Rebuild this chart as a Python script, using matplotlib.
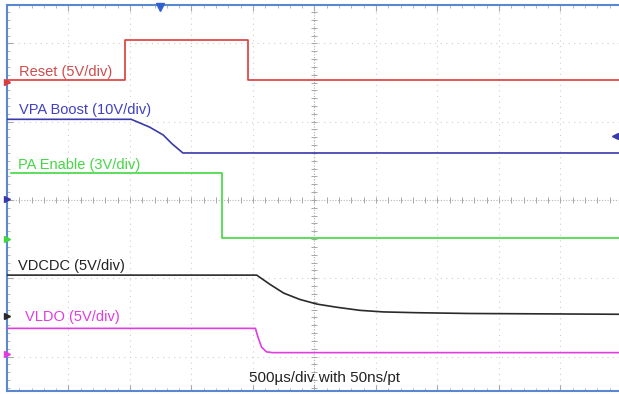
import matplotlib
matplotlib.use("Agg")
import matplotlib.pyplot as plt
import numpy as np

plt.rcParams["font.family"] = ["Liberation Sans", "DejaVu Sans"]

# time in ms (500 us/div), level in screen divisions (0 = centre line)
reset_t = [0.00, 0.96, 0.96, 1.96, 1.96, 4.98]
reset_v = [1.53, 1.53, 2.04, 2.04, 1.53, 1.53]

vpa_t = [0.00, 1.01, 1.16, 1.27, 1.34, 1.43, 4.98]
vpa_v = [1.03, 1.03, 0.93, 0.83, 0.72, 0.60, 0.60]

pa_t = [0.03, 1.75, 1.75, 4.98]
pa_v = [0.34, 0.34, -0.48, -0.48]

vdcdc_t = [0.00, 2.03, 2.14, 2.25, 2.38, 2.52, 2.68, 2.87, 3.06, 3.33, 3.76, 4.98]
vdcdc_v = [-0.96, -0.96, -1.08, -1.19, -1.27, -1.33, -1.37, -1.41, -1.43, -1.44, -1.45, -1.46]

vldo_t = [0.00, 2.02, 2.04, 2.07, 2.11, 2.16, 4.98]
vldo_v = [-1.64, -1.64, -1.75, -1.88, -1.94, -1.95, -1.95]

labels = ["Reset (5V/div)", "VPA Boost (10V/div)", "PA Enable (3V/div)",
          "VDCDC (5V/div)", "VLDO (5V/div)"]
colors = ["#dd3b3b", "#3a3aaa", "#3fd83f", "#2a2a2a", "#e03ce0"]
label_colors = ["#d04c4c", "#4040c0", "#44d844", "#222222", "#e03ce0"]
label_pos = [(0.10, 1.64), (0.10, 1.15), (0.09, 0.45), (0.09, -0.84), (0.15, -1.50)]
ground_v = [1.51, 0.01, -0.50, -1.48, -1.97]

W, H = 619, 394
fig = plt.figure(figsize=(W / 100, H / 100), dpi=100)
ax = fig.add_axes([7 / W, 3 / H, 612 / W, 386 / H])
ax.set_xlim(0, 4.976)
ax.set_ylim(-2.44, 2.49)

# grid
for x in np.arange(0.5, 4.9, 0.5):
    ax.axvline(x, color="#cfcfcf", lw=0.8, ls=(0, (1, 4)), zorder=1)
for y in [-2, -1, 1, 2]:
    ax.axhline(y, color="#cfcfcf", lw=0.8, ls=(0, (1, 4)), zorder=1)
ax.axvline(2.5, color="#b4b4b4", lw=0.8, ls=(0, (1, 1.5)), zorder=1)
ax.axhline(0, color="#b4b4b4", lw=0.8, ls=(0, (1, 1.5)), zorder=1)
xt = np.arange(0.1, 4.95, 0.1)
ax.plot(xt, np.zeros(len(xt)), ls="none", marker="|",
        ms=4, mew=0.7, color="#a8a8a8", zorder=1)
yt = np.arange(-2.4, 2.5, 0.1)
ax.plot(np.full(len(yt), 2.5), yt, ls="none", marker="_",
        ms=4, mew=0.7, color="#a8a8a8", zorder=1)

traces = [(reset_t, reset_v), (vpa_t, vpa_v), (pa_t, pa_v),
          (vdcdc_t, vdcdc_v), (vldo_t, vldo_v)]
for (t, v), c, lc, lab, (lx, ly), gv in zip(traces, colors, label_colors,
                                            labels, label_pos, ground_v):
    ax.plot(t, v, color=c, lw=1.2, zorder=3, solid_joinstyle="round")
    ax.text(lx, ly, lab, color=lc, fontsize=10.5, va="center", ha="left", zorder=4)
    ax.plot([0.0], [gv], marker=">", ms=5, color=c, clip_on=False, zorder=5)

# trigger markers
ax.plot([1.244], [2.46], marker="v", ms=6, color="#3060d0", clip_on=False, zorder=5)
ax.plot([4.943], [0.817], marker="<", ms=4, color="#3a3aaa", zorder=5)

ax.text(2.585, -2.27, "500\u00b5s/div with 50ns/pt", color="#222222",
        fontsize=11, ha="center", va="center", zorder=4)

# frame and ticks
for side in ["top", "left", "bottom"]:
    ax.spines[side].set_color("#5a88d0")
    ax.spines[side].set_linewidth(1.5)
ax.spines["right"].set_visible(False)
ax.set_xticks(np.arange(0, 5.0, 0.5))
ax.set_xticks(np.arange(0, 5.0, 0.1), minor=True)
ax.set_yticks(np.arange(-2, 2.5, 1))
ax.set_yticks(np.arange(-2.4, 2.5, 0.1), minor=True)
ax.tick_params(which="both", direction="in", top=True, bottom=True, left=True,
               right=False, labelbottom=False, labelleft=False, color="#a8a8a8")
ax.tick_params(which="major", length=4, width=0.8)
ax.tick_params(which="minor", length=2.5, width=0.6)

fig.savefig("out.png", dpi=100)
